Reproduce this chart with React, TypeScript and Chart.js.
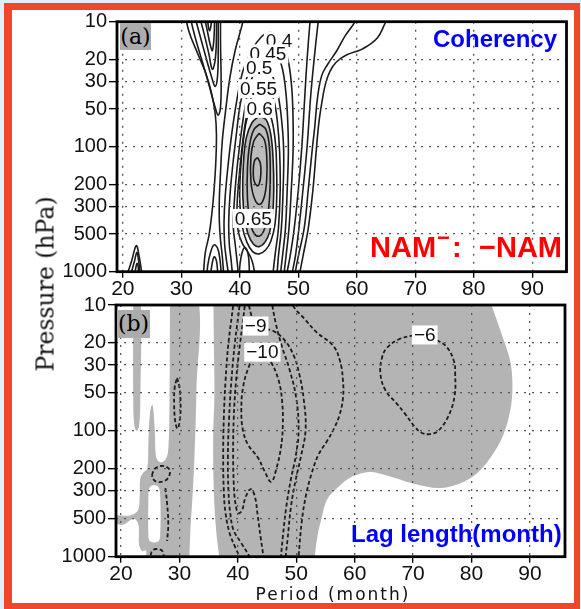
import { useEffect, useRef } from "react";
import { Chart, registerables } from "chart.js";

Chart.register(...registerables);

type Pt = [number, number];
type Label = { text: string; period: number; pressure: number };

// ---------- axes ----------
const periodTicks = [20, 30, 40, 50, 60, 70, 80, 90];
const pressureTicks = [10, 20, 30, 50, 100, 200, 300, 500, 1000];
const pressureMin = 10;
const pressureMax = 1000;
const periodRangeA: [number, number] = [19.0, 95.85];
const periodRangeB: [number, number] = [19.15, 96.0];

// ---------- panel (a): coherency contours [period, pressure] ----------
const cohOuterLeft: Pt[] = [[30.5, 8], [31.3, 12], [32.8, 18], [34.2, 26], [35.2, 38], [35.8, 55], [36.0, 80], [35.9, 130], [35.6, 220], [35.2, 350], [34.7, 520], [34.1, 700], [33.8, 1000], [33.7, 1100]];
const cohTongue1: Pt[] = [[31.2, 8], [32.3, 13], [33.6, 21], [34.8, 33], [35.7, 47], [36.3, 56], [36.7, 48], [36.8, 30], [36.7, 15], [36.7, 8]];
const cohTongue2: Pt[] = [[32.0, 8], [33.1, 12.5], [34.3, 20], [35.2, 28], [35.8, 33], [36.2, 27], [36.3, 17], [36.3, 8]];
const cohTongue3: Pt[] = [[32.8, 8], [33.8, 12], [34.7, 18], [35.3, 24], [35.8, 20], [36.0, 13], [36.0, 8]];
const cohTongue4: Pt[] = [[33.6, 8], [34.3, 11], [34.9, 15], [35.3, 17], [35.6, 13], [35.7, 8]];
const cohTongue5: Pt[] = [[34.2, 8], [34.5, 10], [34.8, 11.8], [35.1, 10.5], [35.2, 8]];
const cohLevel35: Pt[] = [[41.0, 8], [40.3, 11], [39.2, 17], [38.3, 28], [37.6, 50], [37.0, 90], [36.7, 160], [36.5, 260], [36.5, 400], [36.7, 560], [37.0, 750], [37.2, 1000], [37.2, 1100]];
const cohLevel40: Pt[] = [[38.1, 1100], [38.0, 1000], [37.7, 800], [37.4, 600], [37.3, 400], [37.5, 250], [38.0, 140], [38.6, 80], [39.4, 45], [40.5, 25], [42.0, 17], [43.7, 13.2], [45.1, 12.2], [46.4, 13], [47.6, 16], [48.4, 22], [48.9, 35], [49.1, 60], [49.1, 110], [48.8, 220], [48.4, 450], [47.9, 750], [47.6, 1000], [47.6, 1100]];
const cohLevel45: Pt[] = [[38.8, 1100], [38.7, 1000], [38.5, 800], [38.2, 600], [38.1, 400], [38.3, 250], [38.8, 140], [39.4, 80], [40.1, 45], [41.2, 28], [42.6, 20], [44.0, 16.8], [45.2, 16.6], [46.4, 18.5], [47.3, 24], [47.9, 38], [48.2, 65], [48.3, 110], [48.1, 220], [47.8, 450], [47.3, 750], [47.0, 1000], [47.0, 1100]];
const cohLevel50: Pt[] = [[39.7, 1100], [39.7, 1000], [39.5, 800], [39.2, 600], [38.9, 450], [39.0, 300], [39.4, 170], [40.0, 95], [40.7, 55], [41.6, 33], [42.7, 24.5], [43.7, 22], [44.7, 23], [45.7, 28], [46.6, 40], [47.2, 65], [47.5, 110], [47.4, 220], [47.1, 450], [46.6, 750], [46.4, 1000], [46.4, 1100]];
const cohLevel55: Pt[] = [[42.6, 1100], [42.5, 1000], [42.1, 820], [41.4, 700], [40.4, 590], [39.7, 470], [39.5, 330], [39.8, 190], [40.3, 110], [41.0, 62], [41.9, 41], [42.9, 33.5], [43.9, 32.2], [44.9, 34], [45.8, 42], [46.4, 62], [46.8, 110], [46.9, 220], [46.6, 450], [46.0, 750], [45.7, 1000], [45.6, 1100]];
const cohLevel60: Pt[] = [[43.4, 46], [44.6, 49], [45.5, 62], [46.1, 95], [46.3, 160], [46.3, 260], [46.0, 420], [45.3, 570], [44.4, 670], [43.3, 720], [42.2, 690], [41.2, 580], [40.4, 430], [40.0, 280], [40.1, 160], [40.6, 90], [41.3, 58], [42.2, 49], [43.4, 46]];
const cohLevel65: Pt[] = [[43.3, 57], [44.5, 61], [45.3, 80], [45.7, 130], [45.8, 220], [45.6, 350], [45.1, 480], [44.3, 580], [43.3, 630], [42.3, 600], [41.4, 500], [40.8, 370], [40.5, 240], [40.6, 140], [41.1, 85], [42.1, 64], [43.3, 57]];
const cohLevel70: Pt[] = [[43.4, 66], [44.4, 72], [45.0, 95], [45.2, 150], [45.1, 250], [44.7, 370], [44.1, 470], [43.3, 520], [42.4, 490], [41.7, 390], [41.3, 260], [41.3, 150], [41.7, 95], [42.4, 73], [43.4, 66]];
const cohLevel75: Pt[] = [[43.3, 78], [44.2, 88], [44.6, 120], [44.6, 180], [44.2, 250], [43.4, 290], [42.5, 260], [41.9, 190], [41.9, 120], [42.4, 90], [43.3, 78]];
const cohLevel80: Pt[] = [[43.0, 122], [43.5, 135], [43.6, 165], [43.3, 200], [42.9, 205], [42.4, 185], [42.3, 155], [42.5, 130], [43.0, 122]];
const cohRight1: Pt[] = [[52.2, 8], [52.0, 10], [51.5, 20], [51.1, 40], [50.6, 100], [50.0, 220], [49.3, 450], [48.6, 750], [48.1, 1000], [48.0, 1100]];
const cohRight2: Pt[] = [[53.7, 8], [53.4, 10], [52.7, 20], [52.1, 40], [51.5, 100], [50.8, 220], [50.1, 450], [49.5, 750], [49.0, 1000], [48.9, 1100]];
const cohRight3: Pt[] = [[60.5, 8], [59.7, 10], [58.0, 13], [56.6, 17], [55.0, 22], [54.0, 27], [53.3, 40], [52.8, 70], [52.4, 103], [51.7, 220], [51.0, 450], [50.0, 750], [49.5, 1000], [49.4, 1100]];
const cohRight4: Pt[] = [[66.5, 8], [65.0, 10], [63.5, 13.5], [61.0, 16.5], [58.3, 18.4], [56.5, 21], [55.4, 25], [54.6, 32], [54.0, 45], [53.5, 65], [53.1, 103], [52.5, 220], [51.7, 450], [50.8, 750], [50.3, 1000], [50.2, 1100]];
const cohArch1: Pt[] = [[34.4, 1100], [34.5, 900], [35.0, 700], [35.6, 610], [36.2, 650], [36.6, 800], [36.8, 1000], [36.8, 1100]];
const cohArch1b: Pt[] = [[35.0, 1100], [35.2, 900], [35.6, 760], [36.0, 820], [36.2, 1000], [36.2, 1100]];
const cohArch2: Pt[] = [[39.9, 1100], [40.0, 900], [40.4, 700], [40.9, 640], [41.4, 720], [41.6, 900], [41.6, 1100]];
const cohSpike1: Pt[] = [[20.6, 1100], [20.9, 1000], [21.5, 820], [22.3, 620], [22.8, 760], [23.2, 1000], [23.3, 1100]];
const cohSpike2: Pt[] = [[21.3, 1100], [21.5, 1000], [22.0, 820], [22.4, 700], [22.7, 820], [22.9, 1000], [22.9, 1100]];
const cohSpike3: Pt[] = [[21.9, 1100], [22.1, 1000], [22.4, 860], [22.6, 900], [22.7, 1100]];

const cohLines: Pt[][] = [
  cohOuterLeft, cohTongue1, cohTongue2, cohTongue3, cohTongue4, cohTongue5,
  cohLevel35, cohLevel40, cohLevel45, cohLevel50, cohLevel55, cohLevel60,
  cohLevel65, cohLevel70, cohLevel75, cohLevel80,
  cohRight1, cohRight2, cohRight3, cohRight4,
  cohArch1, cohArch1b, cohArch2, cohSpike1, cohSpike2, cohSpike3,
];
const cohShaded: Pt[] = cohLevel65;

const cohLabels: Label[] = [
  { text: "0.4", period: 46.7, pressure: 14.3 },
  { text: "0.45", period: 44.8, pressure: 18.1 },
  { text: "0.5", period: 43.3, pressure: 23.2 },
  { text: "0.55", period: 43.2, pressure: 34.4 },
  { text: "0.6", period: 43.4, pressure: 49.4 },
  { text: "0.65", period: 42.3, pressure: 375 },
];

// ---------- panel (b): lag length ----------
const lagShadeMain: Pt[] = [[35.8, 8], [35.9, 20], [36.0, 50], [35.8, 100], [35.8, 200], [36.0, 400], [36.4, 700], [36.8, 1000], [36.8, 1200], [53.2, 1200], [53.2, 1000], [53.6, 700], [54.3, 500], [55.3, 350], [57.2, 280], [59.5, 232], [62.5, 212], [65.5, 226], [70.0, 262], [74.5, 285], [78.0, 262], [81.0, 216], [83.7, 152], [85.5, 106], [86.6, 70], [87.0, 47], [86.7, 29], [85.5, 19], [83.4, 10], [82.5, 8], [35.8, 8]];
const lagShadeLeft: Pt[] = [[28.4, 8], [28.3, 60], [28.1, 140], [27.6, 170], [26.7, 178], [26.0, 160], [25.8, 100], [25.4, 62], [25.0, 70], [24.7, 120], [24.5, 200], [23.8, 215], [23.3, 240], [23.2, 330], [22.9, 430], [21.5, 470], [18.5, 470], [18.5, 520], [20.2, 560], [22.2, 500], [23.0, 560], [23.1, 800], [23.6, 900], [24.3, 900], [24.5, 1200], [31.6, 1200], [31.7, 1000], [31.9, 600], [32.3, 300], [32.6, 150], [32.9, 50], [33.0, 8], [28.4, 8]];
const lagShadeFinger: Pt[] = [[22.1, 8], [22.1, 60], [22.3, 92], [22.7, 100], [23.1, 92], [23.3, 60], [23.3, 8], [22.1, 8]];
const lagHole: Pt[] = [[24.7, 300], [25.1, 275], [26.3, 275], [26.7, 320], [26.7, 700], [26.3, 760], [25.1, 760], [24.7, 700], [24.7, 300]];

const lagLeft1: Pt[] = [[39.3, 8], [39.2, 10], [38.4, 20], [37.9, 40], [37.6, 80], [37.5, 160], [37.6, 300], [37.9, 450], [38.6, 650], [39.6, 850], [40.3, 1000], [40.5, 1100]];
const lagLeft2: Pt[] = [[40.4, 8], [40.3, 10], [39.5, 20], [38.9, 40], [38.5, 80], [38.3, 160], [38.4, 300], [38.7, 450], [39.3, 620], [40.6, 780], [42.0, 1000], [42.2, 1100]];
const lagLeft3: Pt[] = [[41.3, 8], [41.2, 10], [40.4, 20], [39.7, 40], [39.3, 80], [39.2, 150], [39.3, 260], [39.6, 380], [40.1, 450], [40.7, 430], [41.3, 340], [42.2, 290], [42.9, 330], [43.4, 470], [43.9, 700], [44.4, 1000], [44.5, 1100]];
const lagNine: Pt[] = [[41.5, 8], [42.3, 12], [43.1, 14.6], [44.5, 15.5], [46.0, 16], [48.0, 19], [49.6, 25.4], [50.5, 35], [51.3, 57], [51.6, 98], [50.8, 160], [49.9, 246], [49.1, 400], [48.5, 740], [48.2, 1000], [48.2, 1100]];
const lagNineB: Pt[] = [[45.5, 8], [46.5, 14], [47.5, 21], [48.8, 32], [50.0, 55], [50.4, 100], [49.9, 160], [49.1, 240], [48.3, 400], [47.7, 700], [47.4, 1000], [47.4, 1100]];
const lagTen: Pt[] = [[44.2, 23.7], [45.6, 28], [47.0, 40], [47.6, 60], [47.7, 90], [47.4, 134], [46.6, 200], [45.7, 254], [44.6, 210], [43.4, 162], [41.8, 130], [40.9, 100], [40.6, 70], [40.9, 45], [42.0, 30], [43.1, 25], [44.2, 23.7]];
const lagOuter: Pt[] = [[49.2, 8], [49.4, 10], [51.5, 13], [53.5, 16.5], [56.3, 21], [57.5, 28], [58.0, 40], [58.0, 55], [57.4, 75], [56.5, 95], [55.3, 120], [53.8, 155], [52.6, 220], [51.7, 320], [51.0, 500], [50.4, 1000], [50.4, 1100]];
const lagSix: Pt[] = [[72.0, 17.3], [74.0, 19], [75.7, 21.4], [77.0, 28], [77.2, 35], [77.1, 53], [76.0, 77], [74.3, 100], [72.9, 106], [71.5, 104], [70.3, 93], [68.5, 72], [67.1, 60], [65.3, 48], [64.4, 35], [64.7, 26], [65.5, 22], [67.5, 18.8], [70.0, 17.5], [72.0, 17.3]];
const lagSmall1: Pt[] = [[29.6, 38], [30.0, 45], [30.2, 60], [30.1, 80], [29.7, 96], [29.3, 85], [29.1, 60], [29.2, 45], [29.6, 38]];
const lagSmall2: Pt[] = [[25.3, 225], [25.8, 200], [27.0, 190], [28.2, 200], [28.3, 225], [27.6, 248], [26.3, 255], [25.5, 242], [25.3, 225]];
const lagSmall3: Pt[] = [[27.6, 285], [27.9, 380], [28.1, 550], [27.9, 750]];
const lagSmall4: Pt[] = [[25.1, 1100], [25.3, 900], [26.4, 870], [27.2, 920], [27.3, 1100]];

const lagLines: Pt[][] = [
  lagLeft1, lagLeft2, lagLeft3, lagNine, lagNineB, lagTen, lagOuter, lagSix,
  lagSmall1, lagSmall2, lagSmall3, lagSmall4,
];

const lagLabels: Label[] = [
  { text: "\u22129", period: 43.05, pressure: 14.7 },
  { text: "\u221210", period: 44.2, pressure: 23.7 },
  { text: "\u22126", period: 72.0, pressure: 17.3 },
];

// ---------- styling ----------
const GRAY_A = "#bcbcbc";
const GRAY_B = "#b4b4b4";
const LINE = "#1c1c1c";
const FONT_TICK = "Liberation Sans";

const toXY = (pts: Pt[]) => pts.map(([x, y]) => ({ x, y }));

function lineDataset(pts: Pt[], dashed: boolean) {
  return {
    type: "line" as const,
    data: toXY(pts),
    borderColor: LINE,
    borderWidth: dashed ? 1.8 : 1.6,
    borderDash: dashed ? [4, 2.5] : [],
    pointRadius: 0,
    tension: 0.4,
    fill: false,
    order: 1,
  };
}

function fillDataset(pts: Pt[], color: string, order: number) {
  return {
    type: "line" as const,
    data: toXY(pts),
    borderColor: "rgba(0,0,0,0)",
    borderWidth: 0,
    backgroundColor: color,
    pointRadius: 0,
    tension: 0.35,
    fill: "shape",
    order,
  };
}

const framePlugin = {
  id: "frame",
  afterDraw(chart: any, _args: any, opts: any) {
    const { ctx, chartArea: a, scales } = chart;
    const labels: Label[] = opts.labels || [];
    ctx.save();
    ctx.font = `19px "${FONT_TICK}"`;
    ctx.textAlign = "center";
    ctx.textBaseline = "middle";
    for (const lb of labels) {
      const px = scales.x.getPixelForValue(lb.period);
      const py = scales.y.getPixelForValue(lb.pressure);
      const w = ctx.measureText(lb.text).width;
      ctx.fillStyle = "#fff";
      ctx.fillRect(px - w / 2 - 2, py - 9.5, w + 4, 19);
      ctx.fillStyle = "#111";
      ctx.fillText(lb.text, px, py + 1);
    }
    ctx.lineWidth = 2.8;
    ctx.strokeStyle = "#000";
    ctx.strokeRect(a.left, a.top, a.right - a.left, a.bottom - a.top);
    ctx.restore();
  },
};

type PanelProps = {
  top: number;
  height: number;
  padding: { left: number; right: number; top: number; bottom: number };
  yWidth: number;
  range: [number, number];
  datasets: any[];
  labels: Label[];
};

function Panel({ top, height, padding, yWidth, range, datasets, labels }: PanelProps) {
  const ref = useRef<HTMLCanvasElement>(null);
  useEffect(() => {
    const chart = new Chart(ref.current as HTMLCanvasElement, {
      type: "line",
      data: { datasets },
      options: {
        animation: false,
        responsive: true,
        maintainAspectRatio: false,
        events: [],
        layout: { padding },
        plugins: {
          legend: { display: false },
          tooltip: { enabled: false },
          frame: { labels },
        } as any,
        scales: {
          x: {
            type: "linear",
            min: range[0],
            max: range[1],
            afterBuildTicks: (s: any) => {
              s.ticks = periodTicks.map((v) => ({ value: v }));
            },
            afterFit: (s: any) => {
              s.height = 30;
            },
            ticks: {
              autoSkip: false,
              maxRotation: 0,
              padding: 0,
              color: "#111",
              font: { family: FONT_TICK, size: 21, lineHeight: 1.05 },
              callback: (v: any) => String(v),
            },
            grid: {
              z: 1,
              color: "#555",
              lineWidth: 1.3,
              tickLength: 6,
              tickColor: "#000",
              tickWidth: 1.4,
            },
            border: { display: false, dash: [2, 6] },
          },
          y: {
            type: "logarithmic",
            reverse: true,
            min: pressureMin,
            max: pressureMax,
            afterBuildTicks: (s: any) => {
              s.ticks = pressureTicks.map((v) => ({ value: v }));
            },
            afterFit: (s: any) => {
              s.width = yWidth;
            },
            ticks: {
              autoSkip: false,
              padding: 2,
              color: "#111",
              font: { family: FONT_TICK, size: 20 },
              callback: (v: any) => String(v),
            },
            grid: {
              z: 1,
              color: "#555",
              lineWidth: 1.3,
              tickLength: 8,
              tickColor: "#000",
              tickWidth: 1.4,
            },
            border: { display: false, dash: [2, 6] },
          },
        },
      },
      plugins: [framePlugin as any],
    });
    return () => chart.destroy();
  }, []);
  return (
    <div style={{ position: "absolute", left: 0, top, width: 581, height }}>
      <canvas ref={ref} />
    </div>
  );
}

const boldSans = "'Liberation Sans', Arial, sans-serif";

export default function App() {
  const datasetsA = [
    ...cohLines.map((l) => lineDataset(l, false)),
    fillDataset(cohShaded, GRAY_A, 3),
  ];
  const datasetsB = [
    ...lagLines.map((l) => lineDataset(l, true)),
    fillDataset(lagHole, "#ffffff", 2),
    fillDataset(lagShadeMain, GRAY_B, 3),
    fillDataset(lagShadeLeft, GRAY_B, 3),
    fillDataset(lagShadeFinger, GRAY_B, 3),
  ];
  return (
    <div style={{ position: "fixed", left: 0, top: 0, width: 581, height: 609, overflow: "hidden", background: "#ddeffb" }}>
      <div
        style={{
          position: "absolute",
          left: 4,
          top: 3,
          width: 576,
          height: 606,
          boxSizing: "border-box",
          borderStyle: "solid",
          borderColor: "#f0472a",
          borderWidth: "7px 6px 6px 8px",
          background: "#fff",
        }}
      />
      <Panel
        top={0}
        height={302}
        padding={{ left: 0, right: 14.5, top: 21.7, bottom: 0.3 }}
        yWidth={117}
        range={periodRangeA}
        datasets={datasetsA}
        labels={cohLabels}
      />
      <Panel
        top={290}
        height={319}
        padding={{ left: 0, right: 16, top: 15, bottom: 22.3 }}
        yWidth={116}
        range={periodRangeB}
        datasets={datasetsB}
        labels={lagLabels}
      />
      <div style={{ position: "absolute", left: 120, top: 23, width: 31, height: 27, background: "#acacac", fontFamily: "'DejaVu Serif', serif", fontSize: 22, lineHeight: "27px", textAlign: "center" }}>(a)</div>
      <div style={{ position: "absolute", left: 117, top: 310, width: 33, height: 28, background: "#acacac", fontFamily: "'DejaVu Serif', serif", fontSize: 22, lineHeight: "28px", textAlign: "center" }}>(b)</div>
      <div style={{ position: "absolute", left: 433, top: 27, fontFamily: boldSans, fontWeight: 700, fontSize: 24, lineHeight: "24px", color: "#0000ff", whiteSpace: "nowrap" }}>Coherency</div>
      <div style={{ position: "absolute", left: 370, top: 233, fontFamily: boldSans, fontWeight: 700, fontSize: 29, lineHeight: "29px", color: "#ff0000", whiteSpace: "nowrap" }}>NAM</div>
      <div style={{ position: "absolute", left: 437, top: 227, fontFamily: boldSans, fontWeight: 700, fontSize: 22, lineHeight: "22px", color: "#ff0000", whiteSpace: "nowrap" }}>{"\u2212"}</div>
      <div style={{ position: "absolute", left: 452, top: 233, fontFamily: boldSans, fontWeight: 700, fontSize: 29, lineHeight: "29px", color: "#ff0000", whiteSpace: "nowrap" }}>:</div>
      <div style={{ position: "absolute", left: 479, top: 233, fontFamily: boldSans, fontWeight: 700, fontSize: 29, lineHeight: "29px", color: "#ff0000", whiteSpace: "nowrap" }}>{"\u2212NAM"}</div>
      <div style={{ position: "absolute", left: 351, top: 522, fontFamily: boldSans, fontWeight: 700, fontSize: 24, lineHeight: "24px", color: "#0000ff", whiteSpace: "nowrap" }}>Lag length(month)</div>
      <div style={{ position: "absolute", left: 46, top: 283.5, transform: "translate(-50%, -50%) rotate(-90deg)", fontFamily: "'DejaVu Serif', serif", fontSize: 23.5, lineHeight: "27px", whiteSpace: "nowrap", color: "#111" }}>Pressure (hPa)</div>
      <div style={{ position: "absolute", left: 333, top: 585.5, transform: "translateX(-50%)", fontFamily: "'DejaVu Sans', sans-serif", fontSize: 17, lineHeight: "17px", letterSpacing: "2px", whiteSpace: "nowrap", color: "#111" }}>Period (month)</div>
    </div>
  );
}
